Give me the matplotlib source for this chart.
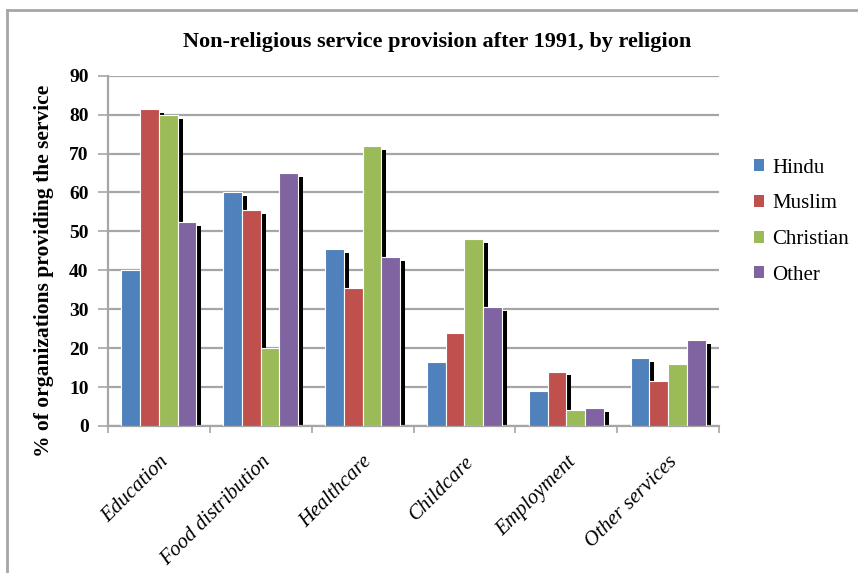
import matplotlib.pyplot as plt
from matplotlib.patches import Patch
import matplotlib.lines as mlines
import numpy as np

categories = ['Education', 'Food distribution', 'Healthcare', 'Childcare', 'Employment', 'Other services']
religions = ['Hindu', 'Muslim', 'Christian', 'Other']
hindu = [40, 60, 45.5, 16.5, 9, 17.5]
muslim = [81.5, 55.5, 35.5, 24, 14, 11.5]
christian = [80, 20, 72, 48, 4, 16]
other = [52.5, 65, 43.5, 30.5, 4.5, 22]
colors = ['#4F81BD', '#C0504D', '#9BBB59', '#8064A2']

series = [hindu, muslim, christian, other]

plt.rcParams['font.family'] = ['Liberation Serif', 'DejaVu Serif']

fig = plt.figure(figsize=(8.58, 5.73), dpi=100)
ax = fig.add_axes([108/858, 1-426/573, 611/858, 350.3/573])

# outer chart frame (only left and top edges visible)
fig.add_artist(mlines.Line2D([7/858, 7/858], [-0.1, 1-10/573], color='#A6A6A6', lw=2))
fig.add_artist(mlines.Line2D([7/858, 1.1], [1-10/573, 1-10/573], color='#A6A6A6', lw=2))

x = np.arange(len(categories))
pitch = 0.184
for j in range(4):
    pos = x + (j - 1.5) * pitch
    vals = np.array(series[j])
    # drop shadow
    ax.bar(pos + 0.05, vals - 1, width=pitch, color='black', zorder=2)
    ax.bar(pos, vals, width=pitch, color=colors[j], edgecolor='white', linewidth=0.8,
           zorder=3, label=religions[j])

ax.set_xlim(-0.5, len(categories) - 0.5)
ax.set_ylim(0, 90)
ax.set_yticks(range(0, 91, 10))
ax.yaxis.grid(True, color='#A6A6A6', linewidth=1.6, zorder=0)
ax.set_axisbelow(True)

ax.set_xticks(x)
ax.set_xticklabels(categories, rotation=45, ha='right', rotation_mode='anchor',
                   fontsize=15, style='italic')
ax.set_xticks(np.arange(-0.5, len(categories)), minor=True)
ax.tick_params(axis='x', which='major', length=0, pad=19)
ax.tick_params(axis='x', which='minor', length=5, color='#A6A6A6', width=1.2)
ax.tick_params(axis='y', length=7, color='#A6A6A6', width=1.2, pad=7)
for lab in ax.get_yticklabels():
    lab.set_fontweight('bold')
    lab.set_fontsize(14)

for s in ['top', 'right']:
    ax.spines[s].set_visible(False)
for s in ['left', 'bottom']:
    ax.spines[s].set_color('#A6A6A6')
    ax.spines[s].set_linewidth(1.6)

ax.set_ylabel('% of organizations providing the service', fontsize=15.5, fontweight='bold')
ax.yaxis.set_label_coords(-0.088, 0.443)
fig.text(437/858, 1-42/573, 'Non-religious service provision after 1991, by religion',
         ha='center', va='center', fontsize=16, fontweight='bold')

handles = [Patch(facecolor=c, label=r) for c, r in zip(colors, religions)]
fig.legend(handles=handles, loc='upper left', bbox_to_anchor=(735/858, 1-140/573),
           frameon=False, fontsize=15, handlelength=0.5, handleheight=0.5,
           handletextpad=0.4, labelspacing=0.8)

fig.savefig('out.png', dpi=100)
